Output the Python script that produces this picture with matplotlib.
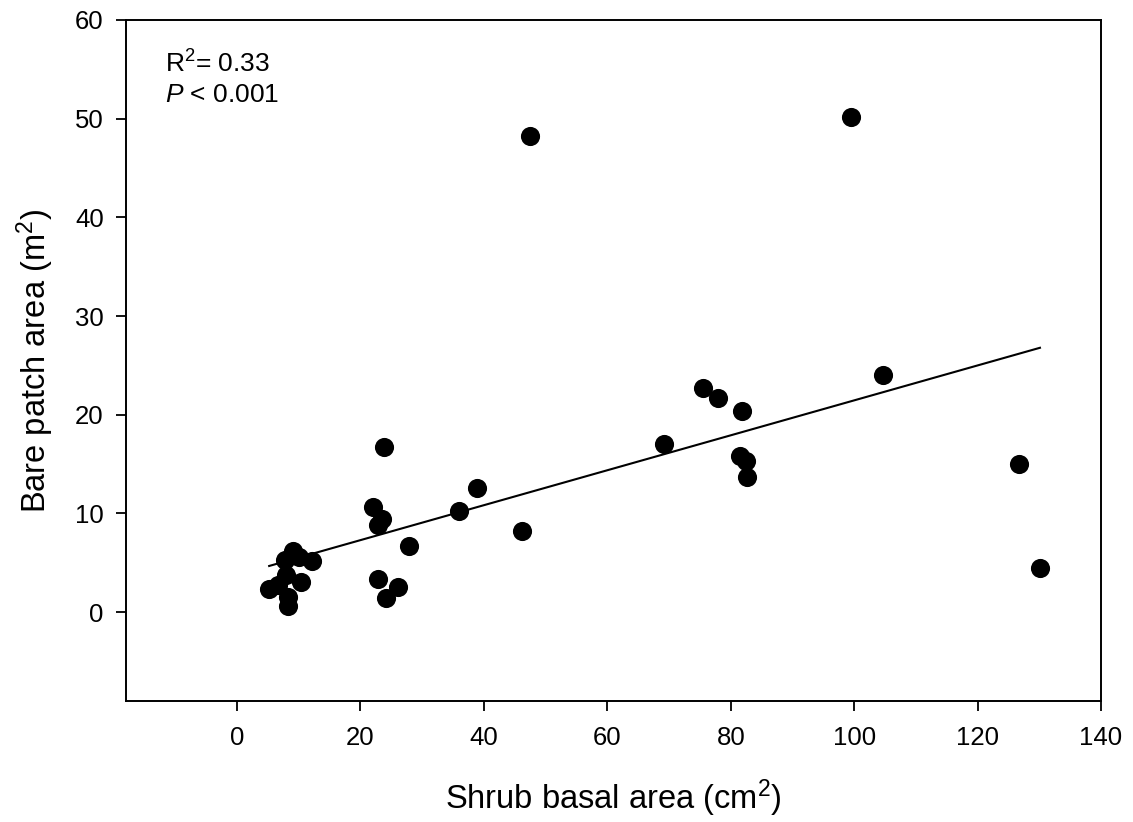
import matplotlib
matplotlib.use('Agg')
import matplotlib.pyplot as plt
import numpy as np

plt.rcParams['font.family'] = ['Liberation Sans', 'DejaVu Sans']
plt.rcParams['mathtext.fontset'] = 'custom'
plt.rcParams['mathtext.rm'] = 'Liberation Sans'
plt.rcParams['mathtext.it'] = 'Liberation Sans:italic'

# shrub basal area (cm2) vs bare patch area (m2)
shrub_area = [5.2, 6.7, 7.8, 8.0, 8.2, 8.3, 9.0, 10.0, 10.3, 12.2,
              22.1, 23.5, 22.9, 23.8, 22.9, 26.0, 24.2, 27.8,
              35.9, 38.8, 46.2, 47.5, 69.1, 75.5, 77.9, 81.8,
              81.5, 82.5, 82.6, 99.5, 104.7, 126.7, 130.1]
bare_area = [2.3, 2.8, 5.3, 3.8, 1.5, 0.6, 6.2, 5.6, 3.1, 5.2,
             10.7, 9.4, 8.8, 16.7, 3.4, 2.5, 1.45, 6.7,
             10.3, 12.6, 8.25, 48.2, 17.0, 22.75, 21.7, 20.4,
             15.8, 15.3, 13.65, 50.2, 24.0, 15.0, 4.45]

# fitted regression line
fit_slope = 0.177
fit_intercept = 3.76

fig = plt.figure(figsize=(11.33, 8.22), dpi=100)
ax = fig.add_axes([0.1112, 0.1472, 0.8606, 0.8285])

ax.scatter(shrub_area, bare_area, s=190, color='black', zorder=3, linewidths=0)
xs = np.array([min(shrub_area), max(shrub_area)])
ax.plot(xs, fit_intercept + fit_slope * xs, color='black', linewidth=1.5, zorder=2)

ax.set_xlim(-18, 140)
ax.set_ylim(-9, 60)
ax.set_xticks(np.arange(0, 141, 20))
ax.set_yticks(np.arange(0, 61, 10))
ax.tick_params(direction='out', length=7, width=1.3, labelsize=18.5)
ax.tick_params(axis='x', pad=11)
ax.tick_params(axis='y', pad=9)
for s in ax.spines.values():
    s.set_linewidth(1.4)

ax.set_xlabel('Shrub basal area (cm$^2$)', fontsize=23.5, labelpad=20)
ax.set_ylabel('Bare patch area (m$^2$)', fontsize=23.5, labelpad=14)

ax.text(0.04, 0.956, 'R$^2$= 0.33', transform=ax.transAxes, fontsize=19, va='top')
ax.text(0.04, 0.908, '$P$ < 0.001', transform=ax.transAxes, fontsize=19, va='top')

fig.savefig('out.png', dpi=100)
